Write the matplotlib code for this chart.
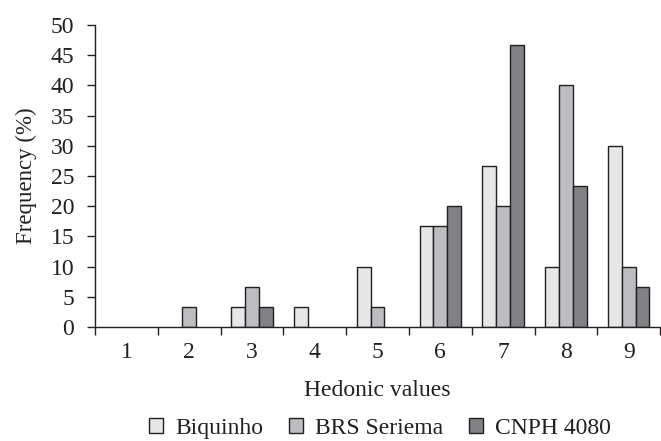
import numpy as np
import matplotlib.pyplot as plt
from matplotlib.patches import Patch

# Hedonic scale values and frequency (%) for each cultivar
hedonic = [1, 2, 3, 4, 5, 6, 7, 8, 9]
biquinho = [0, 0, 3.33, 3.33, 10.0, 16.67, 26.67, 10.0, 30.0]
brs_seriema = [0, 3.33, 6.67, 0, 3.33, 16.67, 20.0, 40.0, 10.0]
cnph_4080 = [0, 0, 3.33, 0, 0, 20.0, 46.67, 23.33, 6.67]

series_names = ['Biquinho', 'BRS Seriema', 'CNPH 4080']
colors = ['#e6e7e8', '#bcbdc0', '#808285']
edge = '#231f20'
fs = 17

plt.rcParams['font.family'] = ['Liberation Serif', 'DejaVu Serif']

fig = plt.figure(figsize=(6.61, 4.41), dpi=100)
ax = fig.add_axes([0.1437, 0.2585, 0.855, 0.685])

x = np.array(hedonic)
w = 0.22
for i, (vals, col) in enumerate(zip([biquinho, brs_seriema, cnph_4080], colors)):
    lw = [1.0 if v > 0 else 0 for v in vals]  # no outline on empty bars
    ax.bar(x + (i - 1) * w, vals, width=w, color=col, edgecolor=edge, linewidth=lw)

ax.set_xlim(0.5, 9.5)
ax.set_ylim(0, 50)
ax.set_yticks(np.arange(0, 51, 5))
ax.set_xticks(x)
ax.set_xticks(np.arange(0.5, 9.6, 1), minor=True)
ax.tick_params(axis='x', which='major', length=0, labelsize=fs, pad=11, labelcolor=edge)
ax.tick_params(axis='x', which='minor', length=6, width=1, color=edge, direction='out')
ax.tick_params(axis='y', length=6, width=1, color=edge, labelsize=fs, pad=9, labelcolor=edge)

for side in ['top', 'right']:
    ax.spines[side].set_visible(False)
for side in ['left', 'bottom']:
    ax.spines[side].set_color(edge)
    ax.spines[side].set_linewidth(1.0)

ax.set_xlabel('Hedonic values', fontsize=fs, labelpad=12, color=edge)
ax.set_ylabel('Frequency (%)', fontsize=16.5, labelpad=10, color=edge)

handles = [Patch(facecolor=c, edgecolor=edge, linewidth=1.0, label=n)
           for c, n in zip(colors, series_names)]
fig.legend(handles=handles, loc='center', bbox_to_anchor=(0.575, 0.028), ncol=3, frameon=False,
           fontsize=fs, handlelength=0.6, handleheight=0.6, handletextpad=0.5,
           columnspacing=1.1, labelcolor=edge)

fig.savefig('out.png', dpi=100)
